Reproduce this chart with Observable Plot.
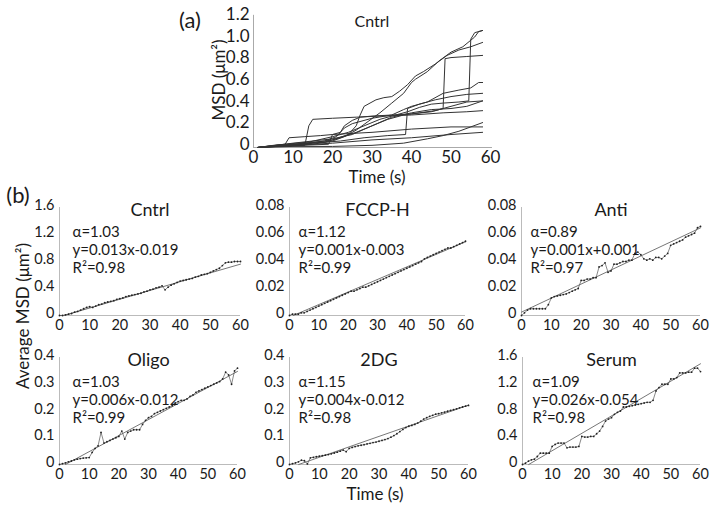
<!DOCTYPE html>
<html><head><meta charset="utf-8">
<script src="https://cdn.jsdelivr.net/npm/d3@7"></script>
<script src="https://cdn.jsdelivr.net/npm/@observablehq/plot@0.6"></script>
<style>
body{margin:0;background:#fff;}
#fig{position:relative;width:714px;height:510px;font-family:Lato,sans-serif;color:#1a1a1a;overflow:hidden;background:#fff;}
#fig .abs{position:absolute;white-space:nowrap;line-height:1;}
</style></head><body><div id="fig"></div>
<script>
// ---------- shared ticks ----------
const xTicks = [0, 10, 20, 30, 40, 50, 60];

// ---------- panel (a): individual MSD tracks, [time s, MSD um^2] ----------
const aTitle = "Cntrl";
const aYTicks = [0, 0.2, 0.4, 0.6, 0.8, 1.0, 1.2];
const track1 = [[1,0],[5,0.01],[10,0.02],[15,0.03],[20,0.06],[23,0.1],[26,0.16],[29,0.24],[32,0.32],[35,0.41],[38,0.5],[40,0.6],[41,0.63],[44,0.7],[47,0.8],[50,0.88],[53,0.93],[56,1.02],[57,1.07],[58,1.08]];
const track2 = [[1,0],[8,0.02],[14,0.04],[20,0.07],[24,0.12],[26,0.2],[27,0.3],[28,0.38],[31,0.44],[33,0.46],[35,0.47],[37,0.52],[39,0.58],[41,0.66],[43,0.7],[46,0.77],[49,0.85],[52,0.9],[55,0.93],[58,0.97]];
const track3 = [[1,0],[6,0.02],[12,0.03],[18,0.05],[22,0.09],[26,0.14],[30,0.2],[34,0.26],[38,0.3],[42,0.32],[46,0.34],[48,0.36],[48.5,0.82],[50,0.83],[54,0.84],[58,0.85]];
const track4 = [[1,0],[8,0.03],[14,0.05],[20,0.1],[24,0.14],[28,0.2],[32,0.26],[36,0.3],[39,0.33],[42,0.37],[45,0.4],[48,0.41],[52,0.42],[54.5,0.43],[55,1.0],[56,1.06],[58,1.08]];
const track5 = [[1,0],[10,0.03],[18,0.06],[21,0.1],[23,0.18],[25,0.22],[30,0.27],[35,0.3],[38,0.35],[40,0.38],[44,0.42],[48,0.5],[52,0.53],[55,0.55],[57,0.6],[58,0.6]];
const track6 = [[1,0],[8,0.02],[15,0.04],[22,0.06],[28,0.09],[34,0.11],[38.5,0.12],[39,0.36],[42,0.4],[46,0.44],[50,0.47],[54,0.49],[58,0.5]];
const track7 = [[1,0],[10,0.04],[20,0.08],[25,0.12],[30,0.2],[35,0.28],[40,0.32],[45,0.35],[50,0.36],[54,0.38],[58,0.43]];
const track8 = [[1,0],[6,0.01],[13,0.02],[14,0.2],[15,0.26],[20,0.27],[26,0.28],[32,0.29],[40,0.3],[48,0.32],[54,0.33],[58,0.34]];
const track9 = [[1,0],[5,0.02],[8,0.03],[9,0.09],[13,0.1],[17,0.11],[20,0.12],[25,0.13],[30,0.14],[40,0.17],[50,0.19],[58,0.19]];
const track10 = [[1,0],[10,0.01],[20,0.01],[30,0.02],[38,0.04],[44,0.08],[48,0.11],[52,0.15],[55,0.19],[58,0.23]];
const track11 = [[1,0],[10,0.02],[20,0.04],[30,0.07],[40,0.09],[50,0.12],[58,0.14]];
const track12 = [[1,0],[6,0.01],[12,0.02],[19,0.03],[20,0.12],[22,0.14],[23,0.2],[25,0.25],[27,0.28],[30,0.29],[35,0.3],[40,0.31],[45,0.33],[50,0.38],[54,0.42],[58,0.43]];
const tracks = [track1,track2,track3,track4,track5,track6,track7,track8,track9,track10,track11,track12];

// ---------- panel (b): averaged MSD per condition ----------
const bTimes = [0,1,2,3,4,5,6,7,8,9,10,11,12,13,14,15,16,17,18,19,20,21,22,23,24,25,26,27,28,29,30,31,32,33,34,35,36,37,38,39,40,41,42,43,44,45,46,47,48,49,50,51,52,53,54,55,56,57,58,59,60];
const panelNames = ["Cntrl", "FCCP-H", "Anti", "Oligo", "2DG", "Serum"];
const alphaLabels = ["α=1.03", "α=1.12", "α=0.89", "α=1.03", "α=1.15", "α=1.09"];
const eqLabels = ["y=0.013x-0.019", "y=0.001x-0.003", "y=0.001x+0.001", "y=0.006x-0.012", "y=0.004x-0.012", "y=0.026x-0.054"];
const r2Labels = ["R²=0.98", "R²=0.99", "R²=0.97", "R²=0.99", "R²=0.98", "R²=0.98"];
const yMaxes = [1.6, 0.08, 0.08, 0.4, 0.4, 1.6];
const yTickSets = [
  [0, 0.4, 0.8, 1.2, 1.6],
  [0, 0.02, 0.04, 0.06, 0.08],
  [0, 0.02, 0.04, 0.06, 0.08],
  [0, 0.1, 0.2, 0.3, 0.4],
  [0, 0.1, 0.2, 0.3, 0.4],
  [0, 0.4, 0.8, 1.2, 1.6]
];
const fitSlopes = [0.013, 0.00093, 0.00104, 0.006, 0.0039, 0.026];
const fitIntercepts = [-0.019, -0.0012, 0.0025, -0.012, -0.012, -0.054];

const msdCntrl = [0, 0.0,0.01,0.02,0.03,0.05,0.06,0.08,0.1,0.12,0.13, 0.12,0.14,0.16,0.17,0.19,0.2,0.21,0.22,0.24,0.25, 0.26,0.28,0.29,0.3,0.31,0.32,0.33,0.35,0.36,0.38, 0.39,0.41,0.42,0.44,0.38,0.42,0.45,0.47,0.49,0.51, 0.52,0.53,0.54,0.55,0.57,0.58,0.6,0.61,0.62,0.64, 0.66,0.68,0.7,0.74,0.78,0.79,0.79,0.8,0.8,0.8];
const msdFccp = [0, 0.001,0.001,0.001,0.002,0.002,0.003,0.004,0.005,0.006,0.007, 0.008,0.009,0.010,0.011,0.012,0.013,0.014,0.015,0.016,0.017, 0.018,0.018,0.019,0.020,0.021,0.021,0.022,0.023,0.024,0.025, 0.026,0.027,0.028,0.029,0.030,0.031,0.032,0.033,0.034,0.035, 0.036,0.037,0.038,0.039,0.040,0.042,0.043,0.044,0.045,0.046, 0.047,0.048,0.049,0.050,0.050,0.051,0.052,0.053,0.054,0.055];
const msdAnti = [0, 0.002,0.004,0.005,0.005,0.005,0.005,0.005,0.005,0.008,0.013, 0.014,0.0145,0.015,0.0155,0.016,0.017,0.018,0.019,0.020,0.026, 0.026,0.027,0.027,0.028,0.028,0.036,0.037,0.039,0.032,0.033, 0.038,0.038,0.039,0.040,0.040,0.041,0.041,0.046,0.047,0.045, 0.042,0.041,0.042,0.041,0.043,0.043,0.042,0.044,0.046,0.052, 0.053,0.054,0.055,0.056,0.058,0.059,0.060,0.061,0.065,0.066];
const msdOligo = [0, 0.003,0.006,0.01,0.013,0.017,0.02,0.022,0.024,0.025,0.026, 0.045,0.06,0.07,0.12,0.08,0.085,0.09,0.095,0.1,0.105, 0.125,0.095,0.12,0.125,0.13,0.13,0.13,0.15,0.165,0.175, 0.18,0.19,0.195,0.2,0.205,0.21,0.215,0.22,0.23,0.235, 0.24,0.24,0.245,0.255,0.26,0.27,0.275,0.28,0.285,0.29, 0.295,0.3,0.305,0.31,0.32,0.345,0.335,0.3,0.35,0.36];
const msd2dg = [0, 0.003,0.006,0.01,0.016,0.014,0.002,0.025,0.027,0.029,0.031, 0.033,0.035,0.037,0.04,0.043,0.046,0.05,0.054,0.048,0.06, 0.064,0.067,0.07,0.072,0.074,0.077,0.079,0.082,0.084,0.087, 0.09,0.093,0.097,0.102,0.108,0.115,0.123,0.131,0.138,0.143, 0.146,0.15,0.155,0.162,0.17,0.175,0.18,0.184,0.188,0.19, 0.193,0.196,0.199,0.202,0.205,0.208,0.212,0.215,0.218,0.221];
const msdSerum = [0, 0.02,0.05,0.07,0.08,0.12,0.17,0.17,0.17,0.17,0.27, 0.3,0.32,0.32,0.32,0.25,0.26,0.26,0.26,0.27,0.42, 0.41,0.41,0.42,0.42,0.46,0.5,0.57,0.65,0.68,0.7, 0.75,0.78,0.8,0.86,0.86,0.87,0.88,0.89,0.9,0.91, 0.92,0.93,0.93,0.96,1.1,1.15,1.2,1.2,1.2,1.28, 1.28,1.3,1.37,1.37,1.37,1.38,1.38,1.44,1.44,1.39];
const panelData = [msdCntrl, msdFccp, msdAnti, msdOligo, msd2dg, msdSerum];

// ---------- layout ----------
const fig = document.getElementById("fig");
const FONT = "Lato, sans-serif";
function place(el, left, top) {
  el.style.position = "absolute";
  el.style.left = left + "px";
  el.style.top = top + "px";
  el.style.maxWidth = "none";
  fig.appendChild(el);
}
function label(text, cx, cy, size, rotate) {
  const d = document.createElement("div");
  d.className = "abs";
  d.textContent = text;
  d.style.fontSize = size + "px";
  d.style.left = cx + "px";
  d.style.top = cy + "px";
  d.style.transform = "translate(-50%,-50%)" + (rotate ? " rotate(-90deg)" : "");
  fig.appendChild(d);
}
const fmt = d => d === 0 ? "0" : String(d);

// ---------- panel (a) ----------
{
  const rows = tracks.flatMap((tr, i) => tr.map(([t, v]) => ({t, v, id: i})));
  const mL = 103, mR = 20, mT = 17, mB = 43;
  const svg = Plot.plot({
    width: 360, height: 190,
    marginLeft: mL, marginRight: mR, marginTop: mT, marginBottom: mB,
    style: {fontFamily: FONT, fontSize: "17px", background: "transparent", color: "#1a1a1a", overflow: "visible"},
    x: {domain: [0, 60]},
    y: {domain: [0, 1.2]},
    marks: [
      Plot.axisX({ticks: xTicks, tickSize: 0, tickPadding: 3, label: null, tickFormat: fmt}),
      Plot.axisY({ticks: aYTicks, tickSize: 0, tickPadding: 4, dy: -3, label: null, tickFormat: d => d === 0 ? "0" : d.toFixed(1)}),
      Plot.ruleX([0], {y1: 0, y2: 1.22, stroke: "#aaa", strokeWidth: 1}),
      Plot.ruleY([0], {x1: 0, x2: 60.5, stroke: "#aaa", strokeWidth: 1}),
      Plot.line(rows, {x: "t", y: "v", z: "id", stroke: "#333", strokeWidth: 1, curve: "linear"}),
      Plot.text([aTitle], {frameAnchor: "top", dy: -2, text: d => d, fontSize: 16, fill: "#1a1a1a"})
    ]
  });
  place(svg, 150, 0);
}
label("(a)", 190, 20, 22);
label("MSD (μm²)", 218, 80, 17, true);
label("Time (s)", 377, 176, 17);

// ---------- panel (b) ----------
const geom = [
  [59, 240, 207, 315], [289, 465, 207, 315], [521, 700, 207, 315],
  [59, 237, 357, 464], [289, 468, 357, 464], [522, 700, 357, 464]
];
const annDx = [13, 9, 9, 13, 9, 10];
panelNames.forEach((name, i) => {
  const [x0, x60, yTop, y0] = geom[i];
  const mL = 45, mR = 12, mT = 22, mB = 24;
  const yMax = yMaxes[i];
  const m = fitSlopes[i], b = fitIntercepts[i];
  const fStart = Math.max(0, -b / m);
  const fit = [{t: fStart, v: m * fStart + b}, {t: 60, v: m * 60 + b}];
  const pts = bTimes.map((t, k) => ({t, v: panelData[i][k]}));
  const svg = Plot.plot({
    width: mL + (x60 - x0) + mR, height: mT + (y0 - yTop) + mB,
    marginLeft: mL, marginRight: mR, marginTop: mT, marginBottom: mB,
    style: {fontFamily: FONT, fontSize: "14.5px", background: "transparent", color: "#1a1a1a", overflow: "visible"},
    x: {domain: [0, 60]},
    y: {domain: [0, yMax]},
    marks: [
      Plot.axisX({ticks: xTicks, tickSize: 0, tickPadding: 4, label: null, tickFormat: fmt}),
      Plot.axisY({ticks: yTickSets[i], tickSize: 0, tickPadding: 5, dy: -2, label: null, tickFormat: fmt}),
      Plot.ruleX([0], {y1: 0, y2: yMax, stroke: "#bbb", strokeWidth: 1}),
      Plot.ruleY([0], {x1: 0, x2: 60, stroke: "#bbb", strokeWidth: 1}),
      Plot.line(fit, {x: "t", y: "v", stroke: "#666", strokeWidth: 0.9}),
      Plot.line(pts, {x: "t", y: "v", stroke: "#555", strokeWidth: 0.7}),
      Plot.dot(pts, {x: "t", y: "v", r: 0.9, fill: "#222", stroke: "none"}),
      Plot.text([name], {frameAnchor: "top", dy: -4, text: d => d, fontSize: 18, fill: "#1a1a1a"}),
      Plot.text([alphaLabels[i]], {frameAnchor: "top-left", dx: annDx[i], dy: 19, textAnchor: "start", text: d => d, fontSize: 15, fill: "#1a1a1a"}),
      Plot.text([eqLabels[i]], {frameAnchor: "top-left", dx: annDx[i], dy: 37, textAnchor: "start", text: d => d, fontSize: 15, fill: "#1a1a1a"}),
      Plot.text([r2Labels[i]], {frameAnchor: "top-left", dx: annDx[i], dy: 55, textAnchor: "start", text: d => d, fontSize: 15, fill: "#1a1a1a"})
    ]
  });
  place(svg, x0 - mL, yTop - mT);
});
label("(b)", 18, 195, 22);
label("Average MSD (μm²)", 22, 316, 17, true);
label("Time (s)", 375, 493, 17);
</script>
</body></html>
